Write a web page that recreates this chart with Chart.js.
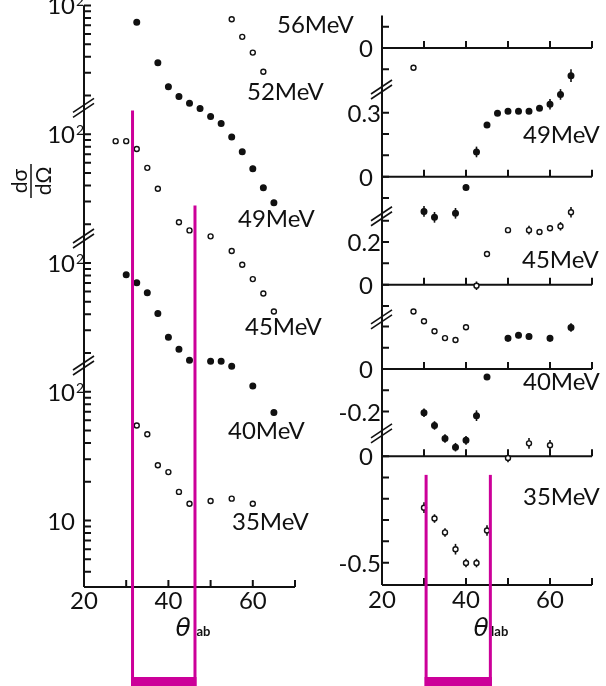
<!DOCTYPE html>
<html>
<head>
<meta charset="utf-8">
<script src="https://cdn.jsdelivr.net/npm/chart.js@4.4.1/dist/chart.umd.min.js"></script>
<style>
  html, body { margin: 0; padding: 0; background: #fff; }
  #wrap { position: relative; width: 606px; height: 686px; overflow: hidden; }
  #wrap canvas { position: absolute; left: 0; top: 0; }
</style>
</head>
<body>
<div id="wrap">
  <canvas id="sigmaChart" width="606" height="686"></canvas>
  <canvas id="powerChart" width="606" height="686"></canvas>
</div>
<script>
// energies, bottom block first
const energies = ['35MeV', '40MeV', '45MeV', '49MeV', '52MeV'];
const filled = [false, true, false, true, false];

// left panel: dsigma/dOmega (mb/sr) vs theta_lab
const sigTheta35 = [32.5, 35, 37.5, 40, 42.5, 45, 50, 55, 60];
const sigma35 = [54.8, 46.8, 26.9, 23.8, 16.7, 13.5, 14.2, 14.8, 13.5];
const sigTheta40 = [30, 32.5, 35, 37.5, 40, 42.5, 45, 50, 52.5, 55, 60, 65];
const sigma40 = [80.9, 70.2, 58.7, 40.5, 26.5, 21.4, 17.6, 17.3, 17.3, 15.8, 11.1, 6.9];
const sigTheta45 = [27.5, 30, 32.5, 35, 37.5, 42.5, 45, 50, 55, 57.5, 60, 62.5, 65];
const sigma45 = [88.3, 88.3, 76.7, 54.8, 37.7, 20.7, 17.9, 16.1, 12.4, 9.7, 7.5, 5.8, 4.2];
const sigTheta49 = [32.5, 37.5, 40, 42.5, 45, 47.5, 50, 52.5, 55, 57.5, 60, 62.5, 65];
const sigma49 = [74, 35.8, 23.4, 19.6, 17.4, 15.8, 13.7, 12.1, 9.5, 7.3, 5.4, 3.84, 2.94];
const sigTheta52 = [55, 57.5, 60, 62.5];
const sigma52 = [7.8, 5.7, 4.3, 3.05];

// right panel: analysing power vs theta_lab
const powTheta35 = [30, 32.5, 35, 37.5, 40, 42.5, 45, 50, 55, 60];
const power35 = [-0.242, -0.293, -0.358, -0.437, -0.502, -0.502, -0.349, -0.009, 0.06, 0.051];
const powErr35 = [0.025, 0.02, 0.02, 0.025, 0.02, 0.02, 0.025, 0.02, 0.025, 0.025];
const powTheta40 = [30, 32.5, 35, 37.5, 40, 42.5, 45, 50, 52.5, 55, 60, 65];
const power40 = [-0.205, -0.265, -0.326, -0.367, -0.335, -0.219, -0.037, 0.144, 0.158, 0.153, 0.144, 0.195];
const powErr40 = [0.02, 0.02, 0.02, 0.02, 0.02, 0.025, 0, 0.015, 0.012, 0.01, 0.015, 0.02];
const powTheta45 = [27.5, 30, 32.5, 35, 37.5, 40, 42.5, 45, 50, 55, 57.5, 60, 62.5, 65];
const power45 = [-0.126, -0.172, -0.219, -0.251, -0.26, -0.2, -0.005, 0.144, 0.256, 0.256, 0.247, 0.265, 0.274, 0.34];
const powErr45 = [0, 0, 0, 0, 0, 0, 0.02, 0, 0, 0.02, 0, 0, 0.02, 0.025];
const powTheta49 = [30, 32.5, 37.5, 40, 42.5, 45, 47.5, 50, 52.5, 55, 57.5, 60, 62.5, 65];
const power49 = [-0.163, -0.191, -0.172, -0.051, 0.116, 0.242, 0.298, 0.307, 0.307, 0.307, 0.321, 0.34, 0.386, 0.474];
const powErr49 = [0.025, 0.025, 0.025, 0, 0.025, 0, 0, 0, 0, 0, 0, 0.025, 0.025, 0.03];
const powTheta52 = [27.5];
const power52 = [-0.093];
const powErr52 = [0];

// axes
const angleTicks = [30, 40, 50, 60, 70];
const angleLabels = [20, 40, 60];
const sigmaShift = [1, 10, 100, 1000, 10000];       // each block sits one decade higher
const sigmaBreaks = [160, 1550, 16000];
const sigmaLabelled = [10, 100, 1000, 10000, 100000];
const powerShift = [0, 0.409, 0.805, 1.312, 1.916];  // zero line of each block
const powerBreaks = [0.107, 0.642, 1.126, 1.721];
const powerLabelled = [[0, -0.5], [0, -0.2], [0, 0.2], [0, 0.3], [0]];

// magenta marks drawn over the scan
const boxTheta = [[31.5, 46.3], [30.5, 45.8]];
const boxTopSigma = [15300, 2790];
const boxTopPower = [-0.088, -0.088];

const INK = '#111';
const MAGENTA = '#cc0099';
const FONT = 'Lato, "DejaVu Sans", sans-serif';
const TEXT = '24px ' + FONT;

function seg(ctx, x1, y1, x2, y2) {
    ctx.beginPath(); ctx.moveTo(x1, y1); ctx.lineTo(x2, y2); ctx.stroke();
}

function breakMark(ctx, x, y) {
    ctx.save();
    ctx.lineWidth = 1.6;
    [-2.5, 2.5].forEach(d => seg(ctx, x - 11, y + 7 + d, x + 10, y - 7 + d));
    ctx.restore();
}

function drawText(ctx, t, x, y, align, font) {
    ctx.font = font; ctx.textAlign = align; ctx.textBaseline = 'alphabetic';
    ctx.fillText(t, x, y);
}

function thetaLab(ctx, cx, base) {
    drawText(ctx, 'θ', cx, base, 'center', 'oblique 25px "DejaVu Sans"');
    drawText(ctx, 'lab', cx + 10, base, 'left', 'bold 13px ' + FONT);
}

function magentaBox(ctx, chart, x1, top1, x2, top2) {
    const h = chart.height;
    ctx.save();
    ctx.strokeStyle = MAGENTA; ctx.fillStyle = MAGENTA; ctx.lineWidth = 3;
    seg(ctx, x1, top1, x1, h);
    seg(ctx, x2, top2, x2, h);
    ctx.fillRect(x1 - 1.5, h - 9, x2 - x1 + 3, 9);
    ctx.restore();
}

// ticks on the inner side of the y axis
function yTicks(ctx, a, pixels) {
    ctx.save();
    ctx.strokeStyle = INK;
    ctx.lineWidth = 2;
    ctx.beginPath();
    pixels.forEach(py => { ctx.moveTo(a.left, py); ctx.lineTo(a.left + 7, py); });
    ctx.stroke();
    ctx.restore();
}

const sigmaFrame = {
    id: 'sigmaFrame',
    beforeDatasetsDraw(chart) {
        const { ctx, chartArea: a, scales: { x, y } } = chart;
        ctx.save();
        ctx.strokeStyle = INK; ctx.fillStyle = INK; ctx.lineWidth = 2;
        seg(ctx, a.left, a.top, a.left, a.bottom);
        seg(ctx, a.left, a.bottom, a.right, a.bottom);
        angleTicks.forEach(t => {
            const px = x.getPixelForValue(t);
            seg(ctx, px, a.bottom, px, a.bottom - 7);
        });
        const py = [];
        for (let d = 0; d <= 5; d++) {
            for (let m = 1; m <= 9; m++) {
                const v = m * Math.pow(10, d);
                if (v >= 3.05 && v <= 100000) py.push(y.getPixelForValue(v));
            }
        }
        yTicks(ctx, a, py);
        sigmaBreaks.forEach(b => breakMark(ctx, a.left, y.getPixelForValue(b)));

        sigmaLabelled.forEach(v => {
            const p = y.getPixelForValue(v);
            drawText(ctx, '10', a.left - 9, p + 9, 'right', TEXT);
            if (v > 10) drawText(ctx, '2', a.left - 8, p + 1, 'left', '14px ' + FONT);
        });

        // d sigma / d Omega, turned on its side
        ctx.save();
        ctx.translate(31, 181);
        ctx.rotate(-Math.PI / 2);
        drawText(ctx, 'dσ', 0, -4, 'center', '21px ' + FONT);
        ctx.lineWidth = 1.5;
        seg(ctx, -17, 0, 17, 0);
        ctx.textBaseline = 'top';
        ctx.fillText('dΩ', 0, 3);
        ctx.restore();

        angleLabels.forEach(v => drawText(ctx, String(v), x.getPixelForValue(v), 609, 'center', TEXT));
        thetaLab(ctx, x.getPixelForValue(43.5), 636);

        drawText(ctx, '56MeV', 277, 33, 'left', TEXT);
        [[232, 530], [228, 439], [245, 335], [238, 227], [247, 100]].forEach((p, i) =>
            drawText(ctx, energies[i], p[0], p[1], 'left', TEXT));
        ctx.restore();
    },
    afterDraw(chart) {
        const { ctx, scales: { x, y } } = chart;
        magentaBox(ctx, chart,
            x.getPixelForValue(boxTheta[0][0]), y.getPixelForValue(boxTopSigma[0]),
            x.getPixelForValue(boxTheta[0][1]), y.getPixelForValue(boxTopSigma[1]));
    }
};

const powerErrs = [powErr35, powErr40, powErr45, powErr49, powErr52];

const powerFrame = {
    id: 'powerFrame',
    beforeDatasetsDraw(chart) {
        const { ctx, chartArea: a, scales: { x, y } } = chart;
        ctx.save();
        ctx.strokeStyle = INK; ctx.fillStyle = INK; ctx.lineWidth = 2;
        seg(ctx, a.left, a.top + 10, a.left, a.bottom);

        const bases = [a.bottom, ...powerShift.map(o => y.getPixelForValue(o))];
        bases.forEach(p => {
            seg(ctx, a.left, p, a.right, p);
            angleTicks.forEach(t => {
                const px = x.getPixelForValue(t);
                seg(ctx, px, p, px, p - 7);
            });
        });

        const py = [];
        powerShift.forEach((o, i) => {
            const lo = i === 0 ? -0.605 : powerBreaks[i - 1];
            const hi = i === powerShift.length - 1 ? 2.116 : powerBreaks[i];
            for (let n = -7; n <= 7; n++) {
                const v = o + n * 0.1;
                if (v > lo + 0.02 && v < hi - 0.02) py.push(y.getPixelForValue(v));
            }
            powerLabelled[i].forEach(t => {
                const p = y.getPixelForValue(o + t);
                const txt = t === 0 ? '0' : String(t);
                drawText(ctx, txt, t === 0 ? a.left - 9 : a.left - 1, p + 9, 'right', TEXT);
            });
        });
        yTicks(ctx, a, py);
        powerBreaks.forEach(b => breakMark(ctx, a.left, y.getPixelForValue(b)));

        // error bars
        ctx.lineWidth = 1.6;
        chart.data.datasets.forEach((ds, i) => {
            ds.data.forEach((p, j) => {
                const e = powerErrs[i][j];
                if (!e) return;
                const px = x.getPixelForValue(p.x);
                seg(ctx, px, y.getPixelForValue(p.y - e), px, y.getPixelForValue(p.y + e));
            });
        });

        angleLabels.forEach(v => drawText(ctx, String(v), x.getPixelForValue(v), 608, 'center', TEXT));
        thetaLab(ctx, x.getPixelForValue(43.6), 636);

        [[523, 505], [523, 390], [522, 268], [523, 143]].forEach((p, i) =>
            drawText(ctx, energies[i], p[0], p[1], 'left', TEXT));
        ctx.restore();
    },
    afterDraw(chart) {
        const { ctx, scales: { x, y } } = chart;
        magentaBox(ctx, chart,
            x.getPixelForValue(boxTheta[1][0]), y.getPixelForValue(boxTopPower[0]),
            x.getPixelForValue(boxTheta[1][1]), y.getPixelForValue(boxTopPower[1]));
    }
};

const sigTheta = [sigTheta35, sigTheta40, sigTheta45, sigTheta49, sigTheta52];
const sigVals = [sigma35, sigma40, sigma45, sigma49, sigma52];
const powTheta = [powTheta35, powTheta40, powTheta45, powTheta49, powTheta52];
const powVals = [power35, power40, power45, power49, power52];

function pointStyle(i) {
    return {
        showLine: false,
        clip: false,
        pointRadius: filled[i] ? 2.8 : 2.5,
        pointBackgroundColor: filled[i] ? INK : '#fff',
        pointBorderColor: INK,
        pointBorderWidth: 1.4
    };
}

const baseOptions = (padding, yScale) => ({
    responsive: false,
    animation: false,
    devicePixelRatio: 1,
    events: [],
    layout: { padding },
    plugins: { legend: { display: false }, tooltip: { enabled: false } },
    scales: {
        x: { type: 'linear', min: 20, max: 70, display: false, bounds: 'data' },
        y: Object.assign({ display: false, bounds: 'data' }, yScale)
    }
});

new Chart(document.getElementById('sigmaChart'), {
    type: 'scatter',
    data: {
        datasets: energies.map((e, i) => Object.assign({
            label: e,
            data: sigTheta[i].map((t, j) => ({ x: t, y: sigVals[i][j] * sigmaShift[i] }))
        }, pointStyle(i)))
    },
    options: baseOptions({ left: 84, right: 311, top: 0, bottom: 99 },
        { type: 'logarithmic', min: 3.05, max: 100000 }),
    plugins: [sigmaFrame]
});

new Chart(document.getElementById('powerChart'), {
    type: 'scatter',
    data: {
        datasets: energies.map((e, i) => Object.assign({
            label: e,
            data: powTheta[i].map((t, j) => ({ x: t, y: powVals[i][j] + powerShift[i] }))
        }, pointStyle(i)))
    },
    options: baseOptions({ left: 382, right: 14, top: 0, bottom: 101 },
        { type: 'linear', min: -0.605, max: 2.116 }),
    plugins: [powerFrame]
});
</script>
</body>
</html>
